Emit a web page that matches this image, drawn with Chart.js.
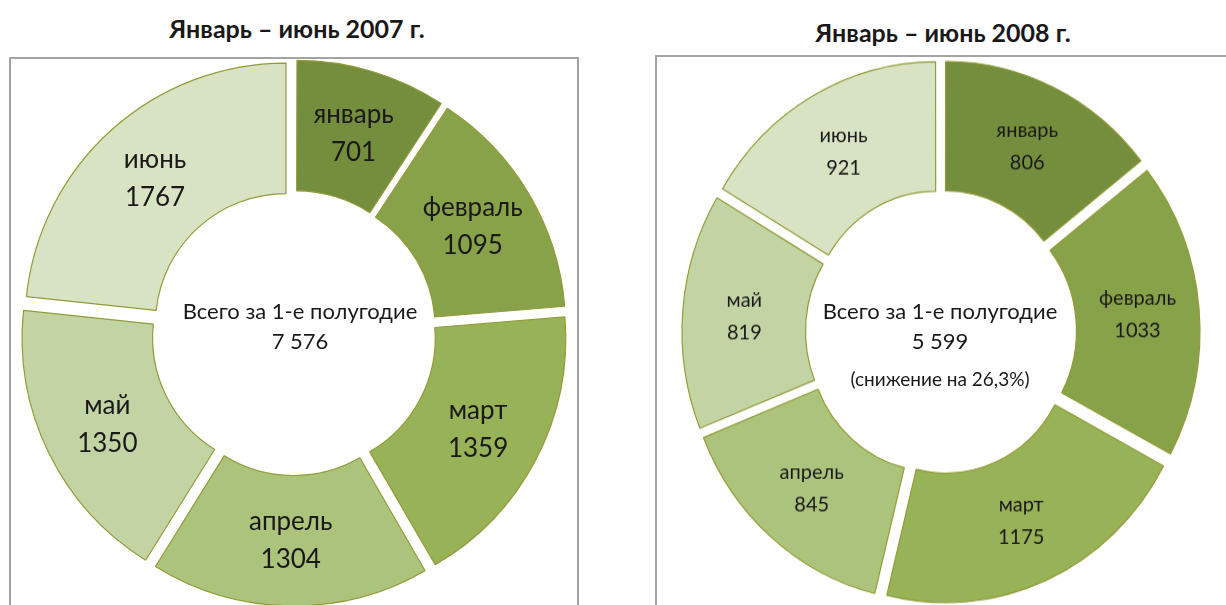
<!DOCTYPE html>
<html lang="ru">
<head>
<meta charset="utf-8">
<script src="https://cdn.jsdelivr.net/npm/chart.js@4.4.1/dist/chart.umd.min.js"></script>
<style>
  html, body { margin: 0; padding: 0; width: 1226px; height: 605px; overflow: hidden; background: #fff; }
  body { font-family: Lato, "Open Sans", sans-serif; color: #1a1819; position: relative; }
  .frame { position: absolute; border: 2px solid #a3a3a3; box-sizing: border-box; }
  .title { position: absolute; font-weight: bold; font-size: 25px; line-height: 30px; transform: translateX(-50%); white-space: nowrap; }
  .total { position: absolute; text-align: center; transform: translateX(-50%); white-space: nowrap; font-size: 22px; line-height: 30px; z-index: 2; }
  .total small { display: block; font-size: 19px; margin-top: 12px; line-height: 22px; }
  canvas { position: absolute; }
</style>
</head>
<body>
<div class="frame" style="left:9px; top:57px; width:570px; height:600px;"></div>
<div class="frame" style="left:655px; top:55px; width:600px; height:600px;"></div>

<div class="title" style="left:297px; top:13px;">Январь – июнь 2007 г.</div>
<div class="title" style="left:943px; top:17px;">Январь – июнь 2008 г.</div>

<canvas id="c2007" width="600" height="600" style="left:-6px; top:33px;"></canvas>
<canvas id="c2008" width="560" height="560" style="left:661px; top:52px; transform:scaleY(1.049); transform-origin:50% 50%;"></canvas>

<div class="total" id="t2007" style="left:300px; top:296px;"></div>
<div class="total" id="t2008" style="left:940px; top:296px;"></div>

<script>
const months = ['январь', 'февраль', 'март', 'апрель', 'май', 'июнь'];
const values2007 = [701, 1095, 1359, 1304, 1350, 1767];
const values2008 = [806, 1033, 1175, 845, 819, 921];
const declineNote = '(снижение на 26,3%)';

const sliceColors = ['#748e3e', '#88a249', '#97b257', '#abc37b', '#c2d4a4', '#d8e3c4'];
const EXPLODE = 12;

const sum = arr => arr.reduce((a, b) => a + b, 0);
const fmt = n => n.toLocaleString('ru-RU');

// chart.js moves an arc by offset/4 and grows it by offset/4*fix, so even it out per slice
function sliceOffset(c) {
  const d = c.dataset.data;
  const i = c.dataIndex || 0;
  const circ = 2 * Math.PI * d[i] / sum(d);
  const fix = 1 - Math.sin(Math.min(Math.PI, circ));
  return 4 * EXPLODE / (1 + fix);
}

const sliceLabels = {
  id: 'sliceLabels',
  afterDatasetsDraw(chart, args, o) {
    const ctx = chart.ctx;
    const meta = chart.getDatasetMeta(0);
    const data = chart.data.datasets[0].data;
    ctx.save();
    ctx.fillStyle = '#1a1819';
    ctx.textAlign = 'center';
    ctx.textBaseline = 'middle';
    ctx.font = o.size + 'px Lato, "Open Sans", sans-serif';
    meta.data.forEach((arc, i) => {
      const p = arc.getProps(['x', 'y', 'startAngle', 'endAngle', 'innerRadius', 'outerRadius']);
      const mid = (p.startAngle + p.endAngle) / 2;
      const r = (p.innerRadius + p.outerRadius) / 2 + EXPLODE;
      const x = p.x + Math.cos(mid) * r;
      const y = p.y + Math.sin(mid) * r;
      ctx.fillText(chart.data.labels[i], x, y - o.gap / 2);
      ctx.fillText(String(data[i]), x, y + o.gap / 2);
    });
    ctx.restore();
  }
};

function makeDonut(id, values, radius, labelSize, labelGap) {
  return new Chart(document.getElementById(id), {
    type: 'doughnut',
    data: {
      labels: months,
      datasets: [{
        data: values,
        backgroundColor: sliceColors,
        borderColor: '#929c37',
        borderWidth: 1.2,
        offset: sliceOffset
      }]
    },
    options: {
      responsive: false,
      animation: false,
      events: [],
      radius: radius,
      cutout: '50%',
      layout: { padding: 0 },
      plugins: {
        legend: { display: false },
        tooltip: { enabled: false },
        sliceLabels: { size: labelSize, gap: labelGap }
      }
    },
    plugins: [sliceLabels]
  });
}

makeDonut('c2007', values2007, 261, 26, 38);
makeDonut('c2008', values2008, 247, 20, 31);

document.getElementById('t2007').innerHTML =
  'Всего за 1-е полугодие<br>' + fmt(sum(values2007));
document.getElementById('t2008').innerHTML =
  'Всего за 1-е полугодие<br>' + fmt(sum(values2008)) + '<small>' + declineNote + '</small>';
</script>
</body>
</html>
